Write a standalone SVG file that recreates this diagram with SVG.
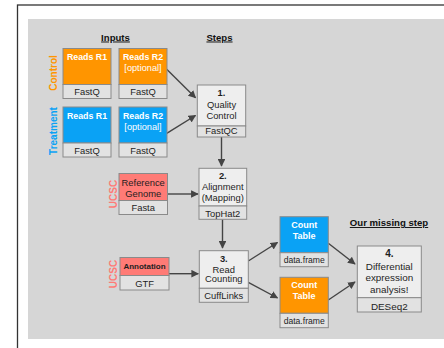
<svg xmlns="http://www.w3.org/2000/svg" width="444" height="348" viewBox="0 0 444 348">
  <style>
    text { font-family: "Liberation Sans", Arial, sans-serif; text-anchor: middle; }
    .top { stroke: #8a8a8a; stroke-width: 1; }
    .light { fill: #eeeeee; }
    .lab { fill: #e2e2e2; stroke: #8a8a8a; stroke-width: 1; }
    .orange { fill: #ff9500; }
    .blue { fill: #0aa2f5; }
    .pink { fill: #ff7b76; }
    .wt { fill: #ffffff; font-weight: bold; font-size: 8.8px; }
    .wr { fill: #ffffff; font-size: 9.2px; }
    .t { fill: #1e1e1e; font-size: 9.4px; }
    .tb { fill: #1e1e1e; font-size: 9.4px; font-weight: bold; }
    .head { fill: #111111; font-size: 9.6px; font-weight: bold; text-decoration: underline; }
    .side { font-size: 10px; font-weight: bold; }
    .edge { stroke: #444444; stroke-width: 1.4; fill: none; marker-end: url(#arrow); }
  </style>
  <defs>
    <marker id="arrow" viewBox="0 0 10 10" refX="9" refY="5" markerWidth="5.5" markerHeight="5.5" orient="auto" markerUnits="strokeWidth">
      <path d="M0,0 L10,5 L0,10 z" fill="#444444"/>
    </marker>
  </defs>

  <!-- page frame and panel -->
  <rect x="17.5" y="5" width="440" height="360" fill="#ffffff" stroke="#333333" stroke-width="1.3"/>
  <rect x="28" y="19" width="416" height="320" fill="#d6d6d6"/>

  <!-- headings -->
  <text class="head" x="115.5" y="40.5">Inputs</text>
  <text class="head" x="219.5" y="40.5">Steps</text>
  <text class="head" x="389" y="226">Our missing step</text>

  <!-- side labels -->
  <text class="side" fill="#ff9500" transform="translate(57.3,73) rotate(-90)">Control</text>
  <text class="side" fill="#0aa2f5" transform="translate(57.3,131) rotate(-90)">Treatment</text>
  <text class="side" fill="#ff7b76" transform="translate(116.6,194) rotate(-90)">UCSC</text>
  <text class="side" fill="#ff7b76" transform="translate(117.3,274) rotate(-90)">UCSC</text>

  <!-- connectors -->
  <g id="connectors">
    <line class="edge" x1="166.7" y1="69.3" x2="195.5" y2="97.8"/>
    <line class="edge" x1="166.7" y1="133.3" x2="195.5" y2="115.5"/>
    <line class="edge" x1="221.5" y1="137" x2="221.5" y2="166"/>
    <line class="edge" x1="167.7" y1="194" x2="198" y2="194"/>
    <line class="edge" x1="222.5" y1="219.5" x2="222.5" y2="248"/>
    <line class="edge" x1="169" y1="273.7" x2="198.3" y2="273.7"/>
    <line class="edge" x1="248.3" y1="261" x2="277.5" y2="242.5"/>
    <line class="edge" x1="248.3" y1="282.3" x2="277.5" y2="298"/>
    <line class="edge" x1="328.3" y1="243.3" x2="355" y2="264"/>
    <line class="edge" x1="328.3" y1="300" x2="355" y2="282"/>
  </g>

  <!-- inputs -->
  <g id="control-r1">
    <rect class="orange top" x="63" y="48.5" width="48" height="36"/>
    <rect class="lab" x="63" y="84.5" width="48" height="14"/>
    <text class="wt" x="87" y="60">Reads R1</text>
    <text class="t" x="87" y="94.5">FastQ</text>
  </g>
  <g id="control-r2">
    <rect class="orange top" x="119" y="48.5" width="48" height="36"/>
    <rect class="lab" x="119" y="84.5" width="48" height="14"/>
    <text class="wt" x="143" y="60">Reads R2</text>
    <text class="wr" x="143" y="70.5">[optional]</text>
    <text class="t" x="143" y="94.5">FastQ</text>
  </g>
  <g id="treatment-r1">
    <rect class="blue top" x="63" y="107" width="48" height="36"/>
    <rect class="lab" x="63" y="143" width="48" height="14"/>
    <text class="wt" x="87" y="119">Reads R1</text>
    <text class="t" x="87" y="153.5">FastQ</text>
  </g>
  <g id="treatment-r2">
    <rect class="blue top" x="119" y="107" width="48" height="36"/>
    <rect class="lab" x="119" y="143" width="48" height="14"/>
    <text class="wt" x="143" y="119">Reads R2</text>
    <text class="wr" x="143" y="129.5">[optional]</text>
    <text class="t" x="143" y="153.5">FastQ</text>
  </g>
  <g id="reference-genome">
    <rect class="pink top" x="119" y="173.5" width="48.5" height="27"/>
    <rect class="lab" x="119" y="200.5" width="48.5" height="14"/>
    <text class="t" x="143.2" y="186">Reference</text>
    <text class="t" x="143.2" y="196.7">Genome</text>
    <text class="t" x="143.2" y="211">Fasta</text>
  </g>
  <g id="annotation">
    <rect class="pink top" x="120" y="257.5" width="49" height="18"/>
    <rect class="lab" x="120" y="275.5" width="49" height="14.5"/>
    <text class="tb" x="144.5" y="268.5" style="font-size:8px">Annotation</text>
    <text class="t" x="144.5" y="286.5">GTF</text>
  </g>

  <!-- steps -->
  <g id="quality-control">
    <rect class="light top" x="197.3" y="85" width="48.4" height="41"/>
    <rect class="lab" x="197.3" y="126" width="48.4" height="11"/>
    <text class="tb" x="221.5" y="96">1.</text>
    <text class="t" x="221.5" y="108.3">Quality</text>
    <text class="t" x="221.5" y="119">Control</text>
    <text class="t" x="221.5" y="134">FastQC</text>
  </g>
  <g id="alignment">
    <rect class="light top" x="199" y="168.3" width="47.7" height="37.7"/>
    <rect class="lab" x="199" y="206" width="47.7" height="13.3"/>
    <text class="tb" x="222.8" y="179">2.</text>
    <text class="t" x="222.8" y="190.3">Alignment</text>
    <text class="t" x="222.8" y="200.7">(Mapping)</text>
    <text class="t" x="222.8" y="216.8">TopHat2</text>
  </g>
  <g id="read-counting">
    <rect class="light top" x="199.3" y="250.7" width="49" height="37.6"/>
    <rect class="lab" x="199.3" y="288.3" width="49" height="14"/>
    <text class="tb" x="223.8" y="261.7">3.</text>
    <text class="t" x="223.8" y="272.7">Read</text>
    <text class="t" x="223.8" y="282.3">Counting</text>
    <text class="t" x="223.8" y="299">CuffLinks</text>
  </g>
  <g id="count-table-treatment">
    <rect class="blue top" x="280" y="216.7" width="48.3" height="36"/>
    <rect class="lab" x="280" y="252.7" width="48.3" height="14"/>
    <text class="wt" x="304.2" y="227.7" style="font-size:9px">Count</text>
    <text class="wt" x="304.2" y="238.5" style="font-size:9px">Table</text>
    <text class="t" x="304.2" y="263.3" style="font-size:8.6px">data.frame</text>
  </g>
  <g id="count-table-control">
    <rect class="orange top" x="280" y="277.3" width="48.3" height="36"/>
    <rect class="lab" x="280" y="313.3" width="48.3" height="14.4"/>
    <text class="wt" x="304.2" y="288.3" style="font-size:9px">Count</text>
    <text class="wt" x="304.2" y="299.3" style="font-size:9px">Table</text>
    <text class="t" x="304.2" y="323.8" style="font-size:8.6px">data.frame</text>
  </g>
  <g id="differential-expression">
    <rect class="light top" x="357.3" y="246" width="64" height="51.7"/>
    <rect class="lab" x="357.3" y="297.7" width="64" height="14.3"/>
    <text class="tb" x="389.3" y="257.3" style="font-size:10px">4.</text>
    <text class="t" x="389.3" y="270" style="font-size:9.9px">Differential</text>
    <text class="t" x="389.3" y="281.3" style="font-size:9.9px">expression</text>
    <text class="t" x="389.3" y="292.7" style="font-size:9.9px">analysis!</text>
    <text class="t" x="389.3" y="309.5" style="font-size:9.9px">DESeq2</text>
  </g>
</svg>
